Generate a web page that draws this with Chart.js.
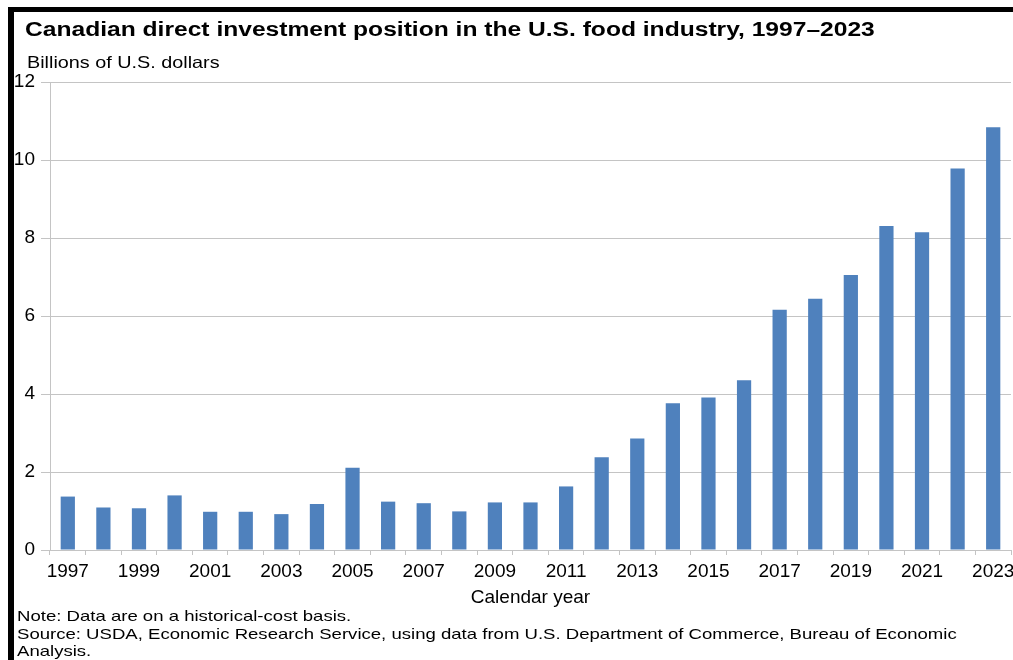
<!DOCTYPE html>
<html>
<head>
<meta charset="utf-8">
<script src="https://cdn.jsdelivr.net/npm/chart.js@4/dist/chart.umd.min.js"></script>
<style>
  body { margin: 0; background: #fff; }
  #wrap { position: relative; width: 1013px; height: 660px; overflow: hidden; font-family: Arial, "Liberation Sans", sans-serif; color: #000; }
  #chart { position: absolute; left: 0; top: 0; }
  .frame-top { position: absolute; left: 8px; top: 7px; width: 1005px; height: 5px; background: #000; }
  .frame-left { position: absolute; left: 8px; top: 7px; width: 6px; height: 653px; background: #000; }
  .txt { position: absolute; white-space: nowrap; transform-origin: 0 0; }
  #title { left: 25px; top: 18px; font-size: 20px; font-weight: bold; transform: scaleX(1.23); }
  #unit { left: 27px; top: 53px; font-size: 16.5px; transform: scaleX(1.2); }
  #notes { left: 17px; top: 608px; font-size: 14.5px; line-height: 17.5px; transform: scaleX(1.28); }
</style>
</head>
<body>
<div id="wrap">
  <canvas id="chart" width="1013" height="660"></canvas>
  <div class="frame-top"></div>
  <div class="frame-left"></div>
  <div id="title" class="txt">Canadian direct investment position in the U.S. food industry, 1997–2023</div>
  <div id="unit" class="txt">Billions of U.S. dollars</div>
  <div id="notes" class="txt">Note: Data are on a historical-cost basis.<br>Source: USDA, Economic Research Service, using data from U.S. Department of Commerce, Bureau of Economic<br>Analysis.</div>
</div>
<script>
// Years and investment position (billions of U.S. dollars)
const years = ['1997', '1998', '1999', '2000', '2001', '2002', '2003', '2004', '2005', '2006',
    '2007', '2008', '2009', '2010', '2011', '2012', '2013', '2014', '2015', '2016',
    '2017', '2018', '2019', '2020', '2021', '2022', '2023'];
const position = [1.37, 1.09, 1.07, 1.40, 0.98, 0.98, 0.92, 1.18, 2.11, 1.24,
    1.20, 0.99, 1.22, 1.22, 1.63, 2.38, 2.86, 3.76, 3.91, 4.35,
    6.16, 6.44, 7.05, 8.31, 8.15, 9.78, 10.84];
const yTicks = [0, 2, 4, 6, 8, 10, 12];

const tickFont = { family: 'Arial, "Liberation Sans", sans-serif', size: 19 };
const gridGray = '#c4c4c4';

const chart = new Chart('chart', {
    type: 'bar',
    data: {
        labels: years,
        datasets: [{
            label: 'Investment position',
            data: position,
            backgroundColor: '#4f81bd',
            borderWidth: 0,
            barPercentage: 0.4,
            categoryPercentage: 1.0
        }]
    },
    options: {
        responsive: false,
        animation: false,
        layout: { padding: { top: 82, right: 2, bottom: 50, left: 0 } },
        plugins: {
            legend: { display: false },
            tooltip: { enabled: false },
            title: { display: false }
        },
        scales: {
            x: {
                // fixed height, and let the last year label run to the page edge
                afterFit: (scale) => {
                    scale.height = 60;
                    scale.paddingLeft = 0;
                    scale.paddingRight = 0;
                },
                grid: { drawOnChartArea: false, drawTicks: true, tickLength: 5, color: gridGray },
                border: { color: gridGray },
                ticks: {
                    autoSkip: false,
                    maxRotation: 0,
                    padding: 5,
                    color: '#000',
                    font: tickFont,
                    callback: (val, i) => (i % 2 === 0 ? years[i] : '')
                },
                title: {
                    display: true,
                    text: 'Calendar year',
                    color: '#000',
                    font: { family: 'Arial, "Liberation Sans", sans-serif', size: 19 },
                    padding: { top: 0, bottom: 1 }
                }
            },
            y: {
                min: 0,
                max: 12,
                afterFit: (scale) => { scale.width = 50; },
                afterBuildTicks: (scale) => { scale.ticks = yTicks.map(v => ({ value: v })); },
                grid: { color: gridGray, tickLength: 9 },
                border: { color: gridGray },
                ticks: { padding: 6, color: '#000', font: tickFont }
            }
        }
    }
});
</script>
</body>
</html>
